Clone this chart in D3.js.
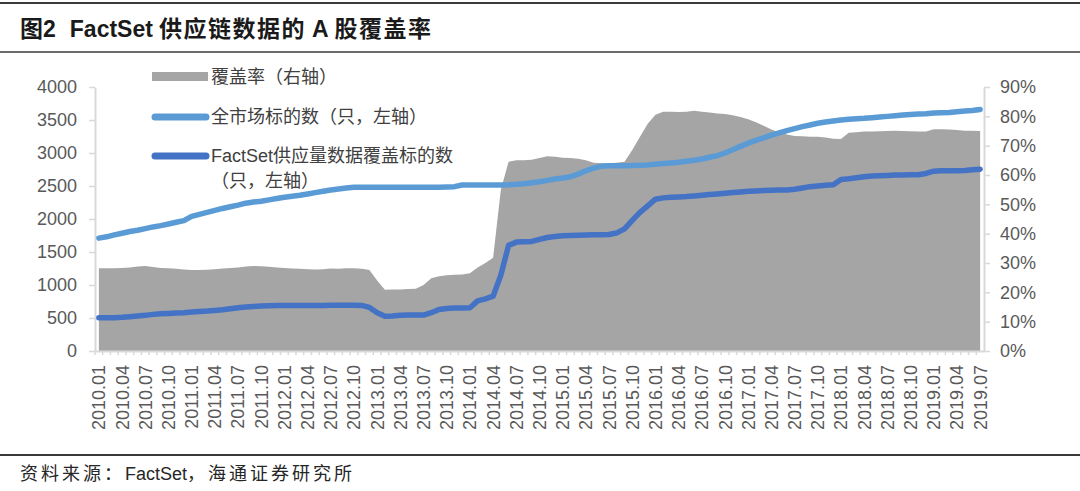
<!DOCTYPE html>
<html>
<head>
<meta charset="utf-8">
<script src="https://cdn.jsdelivr.net/npm/d3@7"></script>
<style>
  body { margin: 0; background: #fff; }
  svg { display: block; }
  text { font-family: "Liberation Sans", Arial, "Noto Sans CJK SC", sans-serif; }
</style>
</head>
<body>
<svg width="1080" height="491"></svg>
<script>
// monthly categories 2010.01 .. 2019.07
const months = [];
for (let y = 2010; y <= 2019; y++) {
  for (let m = 1; m <= 12; m++) {
    if (y === 2019 && m > 7) break;
    months.push(y + "." + String(m).padStart(2, "0"));
  }
}
// every third month gets a label
const tickLabels = months.filter((d, i) => i % 3 === 0);

// 覆盖率 (%) right axis
const coverage = [
  28.2, 28.2, 28.2, 28.3, 28.5, 28.8, 29.0, 28.6, 28.3, 28.2, 28.0, 27.8, // 2010
  27.6, 27.6, 27.7, 27.9, 28.1, 28.3, 28.5, 28.8, 29.0, 28.9, 28.7, 28.5, // 2011
  28.3, 28.1, 28.0, 27.9, 27.8, 27.9, 28.1, 28.0, 28.2, 28.2, 28.0, 27.6, // 2012
  24.0, 20.9, 21.0, 21.0, 21.1, 21.2, 22.5, 24.8, 25.5, 25.8, 26.0, 26.1, // 2013
  26.5, 28.5, 30.0, 31.8, 55.0, 64.5, 65.0, 65.0, 65.2, 65.8, 66.4, 66.2, // 2014
  65.9, 65.8, 65.5, 65.0, 64.2, 64.0, 64.0, 64.2, 64.5, 68.5, 73.0, 77.5, // 2015
  80.5, 81.6, 81.6, 81.5, 81.6, 81.9, 81.6, 81.3, 81.0, 80.8, 80.4, 79.8, // 2016
  79.0, 78.0, 76.8, 75.5, 74.5, 73.8, 73.3, 73.2, 73.0, 73.0, 72.8, 72.4, // 2017
  72.3, 74.4, 74.6, 74.8, 74.8, 74.9, 75.0, 75.1, 75.0, 74.9, 74.8, 74.8, // 2018
  75.6, 75.6, 75.5, 75.3, 75.1, 75.1, 75.0                                // 2019
];

// 全市场标的数 (只) left axis
const totalStocks = [
  1710, 1730, 1760, 1785, 1810, 1830, 1855, 1880, 1900, 1925, 1950, 1975,
  2040, 2070, 2100, 2130, 2160, 2185, 2210, 2240, 2258, 2270, 2290, 2310,
  2330, 2345, 2360, 2380, 2400, 2420, 2440, 2455, 2470, 2480, 2482, 2482,
  2482, 2480, 2480, 2480, 2482, 2482, 2480, 2482, 2482, 2485, 2490, 2515,
  2515, 2515, 2515, 2515, 2515, 2518, 2525, 2535, 2550, 2565, 2585, 2605,
  2620, 2640, 2680, 2730, 2770, 2800, 2805, 2805, 2808, 2810, 2815, 2820,
  2830, 2840, 2850, 2860, 2875, 2890, 2910, 2935, 2960, 3000, 3050, 3100,
  3150, 3190, 3230, 3270, 3305, 3340, 3370, 3400, 3425, 3450, 3470, 3485,
  3500, 3510, 3520, 3525, 3535, 3545, 3555, 3565, 3575, 3585, 3590, 3595,
  3605, 3610, 3615, 3625, 3635, 3645, 3660
];

// FactSet供应量数据覆盖标的数 (只) left axis
const factsetStocks = [
  505, 505, 505, 510, 520, 530, 540, 555, 565, 570, 575, 580,
  590, 600, 605, 615, 625, 640, 655, 665, 675, 680, 685, 690,
  690, 690, 690, 690, 690, 690, 695, 695, 695, 695, 690, 660,
  580, 525, 530, 540, 545, 545, 545, 580, 630, 645, 650, 650,
  655, 760, 790, 830, 1150, 1600, 1650, 1655, 1660, 1690, 1720, 1735,
  1745, 1750, 1755, 1758, 1760, 1760, 1765, 1790, 1850, 1980, 2100, 2200,
  2300, 2320, 2330, 2335, 2340, 2350, 2360, 2370, 2380, 2390, 2400, 2410,
  2420, 2425, 2430, 2435, 2440, 2440, 2450, 2470, 2490, 2500, 2510, 2520,
  2600, 2610, 2625, 2640, 2650, 2655, 2660, 2665, 2665, 2670, 2670, 2690,
  2725, 2730, 2730, 2730, 2735, 2745, 2755
];

const leftTicks = [0, 500, 1000, 1500, 2000, 2500, 3000, 3500, 4000];
const rightTicks = [0, 10, 20, 30, 40, 50, 60, 70, 80, 90];

const svg = d3.select("svg");
const axisGrey = "#d9d9d9";
const labelGrey = "#595959";

// scales
const x = d3.scaleBand().domain(months).range([95, 984]).paddingInner(0).paddingOuter(0);
const cx = i => x(months[i]) + x.bandwidth() / 2;
const yL = d3.scaleLinear().domain([0, 4000]).range([351, 87]);
const yR = d3.scaleLinear().domain([0, 90]).range([351, 87]);

// frame rules and title
svg.append("line").attr("x1", 0).attr("x2", 1080).attr("y1", 3).attr("y2", 3)
  .attr("stroke", "#3a3a3a").attr("stroke-width", 2);
svg.append("line").attr("x1", 0).attr("x2", 1080).attr("y1", 52).attr("y2", 52)
  .attr("stroke", "#3a3a3a").attr("stroke-width", 1.5);
svg.append("line").attr("x1", 0).attr("x2", 1080).attr("y1", 455).attr("y2", 455)
  .attr("stroke", "#3a3a3a").attr("stroke-width", 2);

const title = svg.append("text")
  .attr("x", 20).attr("y", 37)
  .attr("font-size", "23px").attr("font-weight", "bold").attr("fill", "#1a1a1a");
title.append("tspan").text("图2");
title.append("tspan").attr("dx", 14).text("FactSet");
title.append("tspan").attr("dx", 6).attr("letter-spacing", "1.5px").text("供应链数据的");
title.append("tspan").attr("dx", 6).text("A");
title.append("tspan").attr("dx", 6).attr("letter-spacing", "1.5px").text("股覆盖率");

const foot = svg.append("text")
  .attr("x", 20).attr("y", 480)
  .attr("font-size", "18px").attr("fill", "#262626");
foot.append("tspan").attr("letter-spacing", "3px").text("资料来源：");
foot.append("tspan").text("FactSet");
foot.append("tspan").attr("letter-spacing", "3px").text("，海通证券研究所");

// area (coverage)
const area = d3.area()
  .x((d, i) => cx(i))
  .y0(yR(0))
  .y1(d => yR(d));
svg.append("path").datum(coverage)
  .attr("d", area)
  .attr("fill", "#a5a5a5");

// axes
const gL = svg.append("g").attr("transform", "translate(95,0)")
  .call(d3.axisLeft(yL).tickValues(leftTicks).tickFormat(d3.format("d"))
    .tickSize(6).tickSizeOuter(0).tickPadding(12));
const gR = svg.append("g").attr("transform", "translate(984,0)")
  .call(d3.axisRight(yR).tickValues(rightTicks).tickFormat(d => d + "%")
    .tickSize(6).tickSizeOuter(0).tickPadding(10));

// minor month ticks on the category axis, at category boundaries
const gMinor = svg.append("g").attr("transform", "translate(" + (-x.bandwidth() / 2) + ",351)")
  .call(d3.axisBottom(x).tickValues(months).tickFormat("").tickSize(4).tickSizeOuter(0));
gMinor.select(".domain").remove();

const gX = svg.append("g").attr("transform", "translate(0,351)")
  .call(d3.axisBottom(x).tickValues(tickLabels).tickSize(0).tickSizeOuter(0));
gX.selectAll("text")
  .attr("transform", "rotate(-90)")
  .attr("x", -14).attr("y", 0).attr("dy", "0.36em")
  .style("text-anchor", "end");

[gL, gR, gX, gMinor].forEach(g => {
  g.selectAll(".domain").attr("stroke", axisGrey).attr("stroke-width", 2);
  g.selectAll(".tick line").attr("stroke", axisGrey).attr("stroke-width", 1.5);
  g.selectAll("text").attr("fill", labelGrey).attr("font-size", "18px")
    .attr("font-family", "'Liberation Sans', Arial, sans-serif");
});

// lines
const line = d3.line().x((d, i) => cx(i)).y(d => yL(d));
svg.append("path").datum(totalStocks)
  .attr("d", line).attr("fill", "none")
  .attr("stroke", "#5b9bd5").attr("stroke-width", 5.5)
  .attr("stroke-linejoin", "round").attr("stroke-linecap", "round");
svg.append("path").datum(factsetStocks)
  .attr("d", line).attr("fill", "none")
  .attr("stroke", "#4472c4").attr("stroke-width", 5.5)
  .attr("stroke-linejoin", "round").attr("stroke-linecap", "round");

// legend
const legend = svg.append("g").attr("font-size", "18px").attr("fill", "#404040");
legend.append("rect").attr("x", 152).attr("y", 72).attr("width", 56).attr("height", 9).attr("fill", "#a5a5a5");
legend.append("text").attr("x", 211).attr("y", 77).attr("dy", "0.35em").text("覆盖率（右轴）");

legend.append("line").attr("x1", 155).attr("x2", 206).attr("y1", 117).attr("y2", 117)
  .attr("stroke", "#5b9bd5").attr("stroke-width", 7).attr("stroke-linecap", "round");
legend.append("text").attr("x", 211).attr("y", 117).attr("dy", "0.35em").text("全市场标的数（只，左轴）");

legend.append("line").attr("x1", 155).attr("x2", 206).attr("y1", 156).attr("y2", 156)
  .attr("stroke", "#4472c4").attr("stroke-width", 7).attr("stroke-linecap", "round");
legend.append("text").attr("x", 211).attr("y", 156).attr("dy", "0.35em").text("FactSet供应量数据覆盖标的数");
legend.append("text").attr("x", 211).attr("y", 181).attr("dy", "0.35em").text("（只，左轴）");
</script>
</body>
</html>
